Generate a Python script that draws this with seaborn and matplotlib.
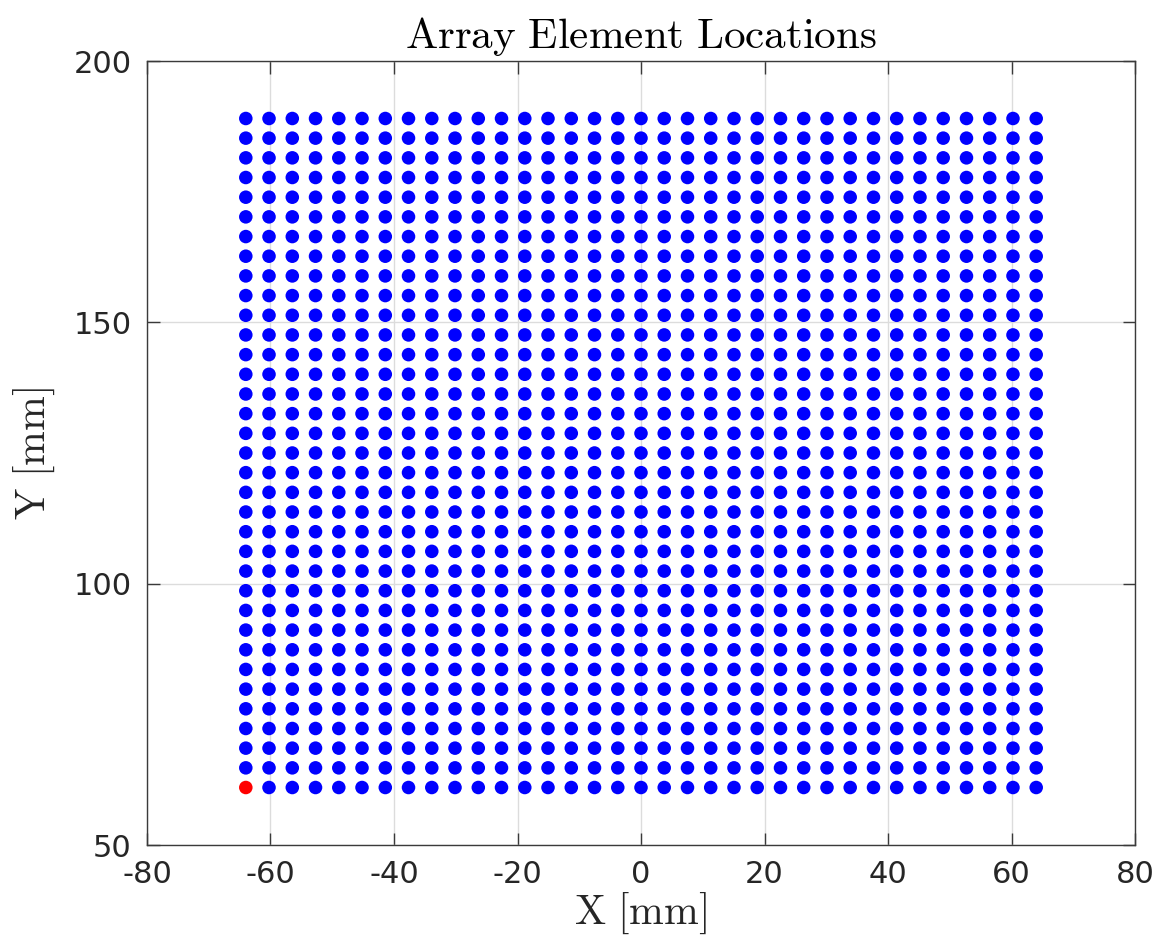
import numpy as np
import pandas as pd
import matplotlib
matplotlib.use("Agg")
import matplotlib.pyplot as plt
import seaborn as sns

# Element x positions (mm) and y positions (mm) of the 35 x 35 grid
x_coords = [-64.00, -60.24, -56.47, -52.71, -48.94, -45.18, -41.41, -37.65, -33.88,
            -30.12, -26.35, -22.59, -18.82, -15.06, -11.29, -7.53, -3.76, 0.00,
            3.76, 7.53, 11.29, 15.06, 18.82, 22.59, 26.35, 30.12, 33.88, 37.65,
            41.41, 45.18, 48.94, 52.71, 56.47, 60.24, 64.00]
y_coords = [61.00, 64.76, 68.53, 72.29, 76.06, 79.82, 83.59, 87.35, 91.12, 94.88,
            98.65, 102.41, 106.18, 109.94, 113.71, 117.47, 121.24, 125.00, 128.76,
            132.53, 136.29, 140.06, 143.82, 147.59, 151.35, 155.12, 158.88, 162.65,
            166.41, 170.18, 173.94, 177.71, 181.47, 185.24, 189.00]
highlight_index = 0  # first element shown in red

x_ticks = [-80, -60, -40, -20, 0, 20, 40, 60, 80]
y_ticks = [50, 100, 150, 200]

sns.set_theme(style="white")
plt.rcParams["font.family"] = ["DejaVu Sans"]
plt.rcParams["mathtext.fontset"] = "cm"
plt.rcParams["axes.unicode_minus"] = False

xx, yy = np.meshgrid(x_coords, y_coords)
df = pd.DataFrame({"x": xx.ravel(), "y": yy.ravel()})
df["kind"] = "element"
df.loc[highlight_index, "kind"] = "first"

fig = plt.figure(figsize=(11.6, 9.42), dpi=100)
ax = fig.add_axes([147 / 1160, 1 - 845 / 942, (1135 - 147) / 1160, (845 - 61) / 942])

sns.scatterplot(data=df, x="x", y="y", hue="kind",
                palette={"element": "#0000ff", "first": "#ff0000"},
                s=95, marker="o", linewidth=0, legend=False, ax=ax, zorder=3)

ax.set_xlim(-80, 80)
ax.set_ylim(50, 200)
ax.set_xticks(x_ticks)
ax.set_yticks(y_ticks)
ax.grid(True, color="#dcdcdc", linewidth=1.0, zorder=0)
ax.set_axisbelow(True)

for sp in ax.spines.values():
    sp.set_color("#3a3a3a")
    sp.set_linewidth(1.0)
ax.tick_params(direction="in", length=9, width=1.0, colors="#3a3a3a",
               labelsize=22, top=True, right=True, bottom=True, left=True)
ax.tick_params(axis="x", pad=11)
ax.tick_params(axis="y", pad=11)
for lbl in ax.get_xticklabels() + ax.get_yticklabels():
    lbl.set_color("#262626")

ax.set_title(r"$\mathrm{Array\ Element\ Locations}$", fontsize=31, pad=9, color="#000000")
ax.set_xlabel(r"$\mathrm{X\ [mm]}$", fontsize=30, labelpad=1, color="#262626")
ax.set_ylabel(r"$\mathrm{Y\ [mm]}$", fontsize=30, labelpad=12, color="#262626")

fig.savefig("out.png", dpi=100)
